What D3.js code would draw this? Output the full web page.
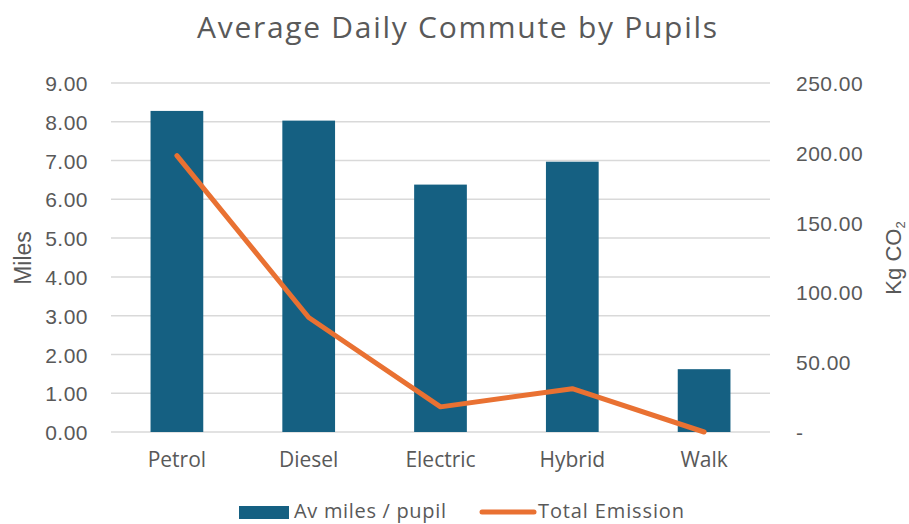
<!DOCTYPE html>
<html>
<head>
<meta charset="utf-8">
<script src="https://cdn.jsdelivr.net/npm/d3@7"></script>
<style>
  html, body { margin: 0; padding: 0; background: #fff; }
  svg { display: block; }
</style>
</head>
<body>
<svg id="chart" width="909" height="524"></svg>
<script>
// Commute data per travel mode
const categories = ["Petrol", "Diesel", "Electric", "Hybrid", "Walk"];
const milesPerPupil = [8.28, 8.03, 6.38, 6.97, 1.62];
const totalEmission = [198, 82, 18, 31, 0];
const leftTicks = [0, 1, 2, 3, 4, 5, 6, 7, 8, 9];
const rightTicks = [0, 50, 100, 150, 200, 250];

const W = 909, H = 524;
const plot = { left: 111, right: 770, top: 83, bottom: 432 };
const textColor = "#595959";
const barColor = "#156082";
const lineColor = "#E97132";
const gridColor = "#D9D9D9";
const titleFont = "'Open Sans', sans-serif";
const axisFont = "'Liberation Sans', Arial, sans-serif";

const svg = d3.select("#chart");

const x = d3.scaleBand()
  .domain(categories)
  .range([plot.left, plot.right])
  .paddingInner(0.6)
  .paddingOuter(0.3);

const yL = d3.scaleLinear().domain([0, 9]).range([plot.bottom, plot.top]);
const yR = d3.scaleLinear().domain([0, 250]).range([plot.bottom, plot.top]);

// Horizontal gridlines from the primary axis
svg.append("g")
  .selectAll("line")
  .data(leftTicks)
  .join("line")
  .attr("x1", plot.left)
  .attr("x2", plot.right)
  .attr("y1", d => yL(d))
  .attr("y2", d => yL(d))
  .attr("stroke", gridColor)
  .attr("stroke-width", 1.5);

// Left axis (miles)
const leftAxis = svg.append("g")
  .attr("transform", `translate(${plot.left - 23},0)`)
  .call(d3.axisLeft(yL).tickValues(leftTicks).tickFormat(d3.format(".2f")).tickSize(0).tickPadding(0));
leftAxis.select(".domain").remove();
leftAxis.selectAll("text")
  .attr("fill", textColor)
  .style("font-family", axisFont)
  .style("font-size", "21px")
  .style("letter-spacing", "0.5px")
  .attr("dy", "0.36em");

// Right axis (kg CO2)
const rightAxis = svg.append("g")
  .attr("transform", `translate(${plot.right + 26},0)`)
  .call(d3.axisRight(yR).tickValues(rightTicks)
    .tickFormat(d => d === 0 ? "-" : d3.format(".2f")(d)).tickSize(0).tickPadding(0));
rightAxis.select(".domain").remove();
rightAxis.selectAll("text")
  .attr("fill", textColor)
  .style("font-family", axisFont)
  .style("font-size", "21px")
  .style("letter-spacing", "0.5px")
  .attr("dy", "0.36em");

// Category axis labels
const bottomAxis = svg.append("g")
  .attr("transform", `translate(0,${plot.bottom})`)
  .call(d3.axisBottom(x).tickSize(0).tickPadding(20));
bottomAxis.select(".domain").remove();
bottomAxis.selectAll("text")
  .attr("fill", textColor)
  .style("font-family", titleFont)
  .style("font-size", "21px");

// Bars
svg.append("g")
  .selectAll("rect")
  .data(categories.map((c, i) => ({ c, v: milesPerPupil[i] })))
  .join("rect")
  .attr("x", d => x(d.c))
  .attr("width", x.bandwidth())
  .attr("y", d => yL(d.v))
  .attr("height", d => yL(0) - yL(d.v))
  .attr("fill", barColor);

// Emission line
const line = d3.line()
  .x(d => x(d.c) + x.bandwidth() / 2)
  .y(d => yR(d.v));
svg.append("path")
  .datum(categories.map((c, i) => ({ c, v: totalEmission[i] })))
  .attr("d", line)
  .attr("fill", "none")
  .attr("stroke", lineColor)
  .attr("stroke-width", 5)
  .attr("stroke-linecap", "round")
  .attr("stroke-linejoin", "round");

// Title
svg.append("text")
  .attr("x", 457)
  .attr("y", 38)
  .attr("text-anchor", "middle")
  .attr("fill", textColor)
  .attr("textLength", 520)
  .attr("lengthAdjust", "spacing")
  .style("font-family", titleFont)
  .style("font-size", "30px")
  .text("Average Daily Commute by Pupils");

// Axis titles
svg.append("text")
  .attr("transform", `translate(31,258) rotate(-90)`)
  .attr("text-anchor", "middle")
  .attr("fill", textColor)
  .style("font-family", axisFont)
  .style("font-size", "23px")
  .text("Miles");

const kg = svg.append("text")
  .attr("transform", `translate(901,258) rotate(-90)`)
  .attr("text-anchor", "middle")
  .attr("fill", textColor)
  .style("font-family", axisFont)
  .style("font-size", "22px");
kg.append("tspan").text("Kg CO");
kg.append("tspan").attr("dy", "0.3em").style("font-size", "13px").text("2");

// Legend
const legend = svg.append("g");
legend.append("rect")
  .attr("x", 239).attr("y", 506).attr("width", 50).attr("height", 13)
  .attr("fill", barColor);
legend.append("text")
  .attr("x", 294).attr("y", 518)
  .attr("fill", textColor)
  .attr("textLength", 152)
  .attr("lengthAdjust", "spacing")
  .style("font-family", titleFont)
  .style("font-size", "20px")
  .text("Av miles / pupil");
legend.append("line")
  .attr("x1", 482).attr("x2", 534).attr("y1", 512).attr("y2", 512)
  .attr("stroke", lineColor).attr("stroke-width", 5).attr("stroke-linecap", "round");
legend.append("text")
  .attr("x", 538).attr("y", 518)
  .attr("fill", textColor)
  .attr("textLength", 146)
  .attr("lengthAdjust", "spacing")
  .style("font-family", titleFont)
  .style("font-size", "20px")
  .text("Total Emission");
</script>
</body>
</html>
